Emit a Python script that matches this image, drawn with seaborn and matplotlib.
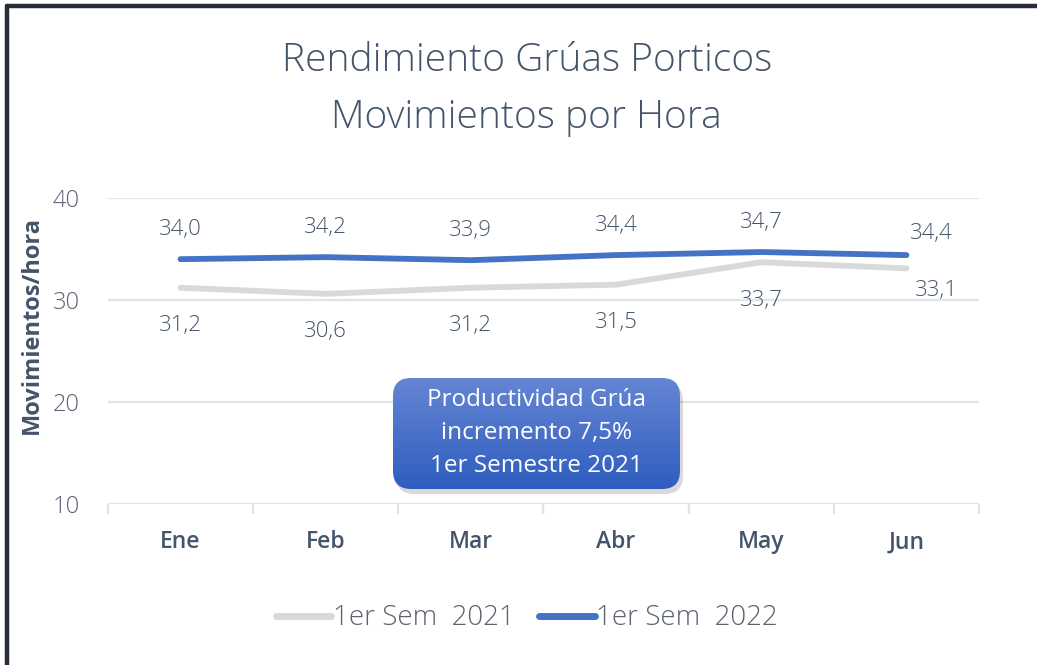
import matplotlib
matplotlib.use("Agg")
import matplotlib.pyplot as plt
import seaborn as sns
import pandas as pd
import numpy as np
from matplotlib.patches import FancyBboxPatch
from matplotlib.lines import Line2D
from matplotlib.transforms import IdentityTransform

# data
months = ["Ene", "Feb", "Mar", "Abr", "May", "Jun"]
sem_2021 = [31.2, 30.6, 31.2, 31.5, 33.7, 33.1]
sem_2022 = [34.0, 34.2, 33.9, 34.4, 34.7, 34.4]
series_names = ["1er Sem  2021", "1er Sem  2022"]
title_lines = ["Rendimiento Grúas Porticos", "Movimientos por Hora"]
note_text = "Productividad Grúa\nincremento 7,5%\n1er Semestre 2021"

df = pd.DataFrame({
    "mes": months * 2,
    "x": list(range(len(months))) * 2,
    "valor": sem_2021 + sem_2022,
    "serie": [series_names[0]] * len(months) + [series_names[1]] * len(months),
})

sns.set_theme(style="white")
plt.rcParams["font.family"] = ["Open Sans", "DejaVu Sans"]

dark = "#44546A"
tick_gray = "#5b6270"
grid_col = "#dfe3ea"
blue = "#4472C4"
gray = "#d9d9d9"

fig = plt.figure(figsize=(10.37, 6.65), dpi=100)
ax = fig.add_axes([0.1041, 0.2421, 0.8400, 0.4602])

sns.lineplot(data=df, x="x", y="valor", hue="serie",
             palette={series_names[0]: gray, series_names[1]: blue},
             linewidth=4.2, ax=ax, legend=False, solid_capstyle="round")

ax.set_xlim(-0.5, len(months) - 0.5)
ax.set_ylim(10, 40)
ax.set_yticks([10, 20, 30, 40])
ax.yaxis.grid(True, color=grid_col, linewidth=1.6)
ax.set_axisbelow(True)
for s in ax.spines.values():
    s.set_visible(False)

ax.set_xticks(range(len(months)))
ax.set_xticklabels(months, fontsize=16.5, fontweight="semibold", color=dark)
ax.set_xticks(np.arange(-0.5, len(months)), minor=True)
ax.tick_params(axis="x", which="major", bottom=True, length=0, pad=19)
ax.tick_params(axis="x", which="minor", bottom=True, length=7, width=1.6,
               color=grid_col, direction="out")
ax.tick_params(axis="y", length=0, pad=20, labelsize=17, labelcolor=tick_gray)
for t in ax.get_yticklabels():
    t.set_fontweight("light")

ax.set_xlabel("")
ax.set_ylabel("Movimientos/hora", fontsize=17, fontweight="bold", color=dark)
ax.yaxis.set_label_coords(-0.074, 0.585)

# data labels
for i, v in enumerate(sem_2022):
    dx, dy = (25, 22) if i == len(months) - 1 else (0, 30)
    ax.annotate(f"{v:.1f}".replace(".", ","), (i, v), xytext=(dx, dy),
                textcoords="offset pixels", ha="center", va="center",
                fontsize=16, fontweight="light", color=dark)
for i, v in enumerate(sem_2021):
    dx, dy = (30, -22) if i == len(months) - 1 else (0, -38)
    ax.annotate(f"{v:.1f}".replace(".", ","), (i, v), xytext=(dx, dy),
                textcoords="offset pixels", ha="center", va="center",
                fontsize=16, fontweight="light", color=dark)

# title
fig.text(0.508, 0.908, title_lines[0], ha="center", va="center",
         fontsize=28, fontweight="light", color=dark)
fig.text(0.508, 0.823, title_lines[1], ha="center", va="center",
         fontsize=28, fontweight="light", color=dark)

# note box with gradient and shadow (pixel coords)
bx, by, bw, bh = 393, 176, 287, 111
shadow = FancyBboxPatch((bx + 3, by - 5), bw, bh, boxstyle="round,pad=0,rounding_size=18",
                        transform=IdentityTransform(), facecolor="#000000", alpha=0.15,
                        edgecolor="none", zorder=5)
fig.add_artist(shadow)
box = FancyBboxPatch((bx, by), bw, bh, boxstyle="round,pad=0,rounding_size=18",
                     transform=IdentityTransform(), facecolor="none",
                     edgecolor="none", zorder=6)
fig.add_artist(box)
grad = np.linspace(0, 1, 256).reshape(-1, 1)
cmap = matplotlib.colors.LinearSegmentedColormap.from_list("g", ["#6586d4", "#2f5dbf"])
gax = fig.add_axes([bx / 1037, by / 665, bw / 1037, bh / 665], zorder=6)
gax.imshow(grad, cmap=cmap, aspect="auto", extent=[0, 1, 0, 1], origin="upper")
gax.set_axis_off()
gax.images[0].set_clip_path(box)
gax.text(0.5, 0.5, note_text, ha="center", va="center", fontsize=17.5,
         color="white", linespacing=1.5, transform=gax.transAxes)

# legend
handles = [Line2D([0], [0], color=gray, lw=5, solid_capstyle="round"),
           Line2D([0], [0], color=blue, lw=5, solid_capstyle="round")]
fig.legend(handles, series_names, loc="center", bbox_to_anchor=(0.508, 0.07),
           ncol=2, frameon=False, handlelength=2.0, handletextpad=0.05,
           columnspacing=0.9, labelcolor=tick_gray, prop={"size": 20, "weight": "light"})

# frame border
fig.add_artist(Line2D([0.0068, 0.0068], [-0.1, 0.9905], transform=fig.transFigure,
                      color="#262d38", lw=3.2))
fig.add_artist(Line2D([0.0068, 1.1], [0.9905, 0.9905], transform=fig.transFigure,
                      color="#262d38", lw=3.2))

fig.savefig("out.png", dpi=100)
